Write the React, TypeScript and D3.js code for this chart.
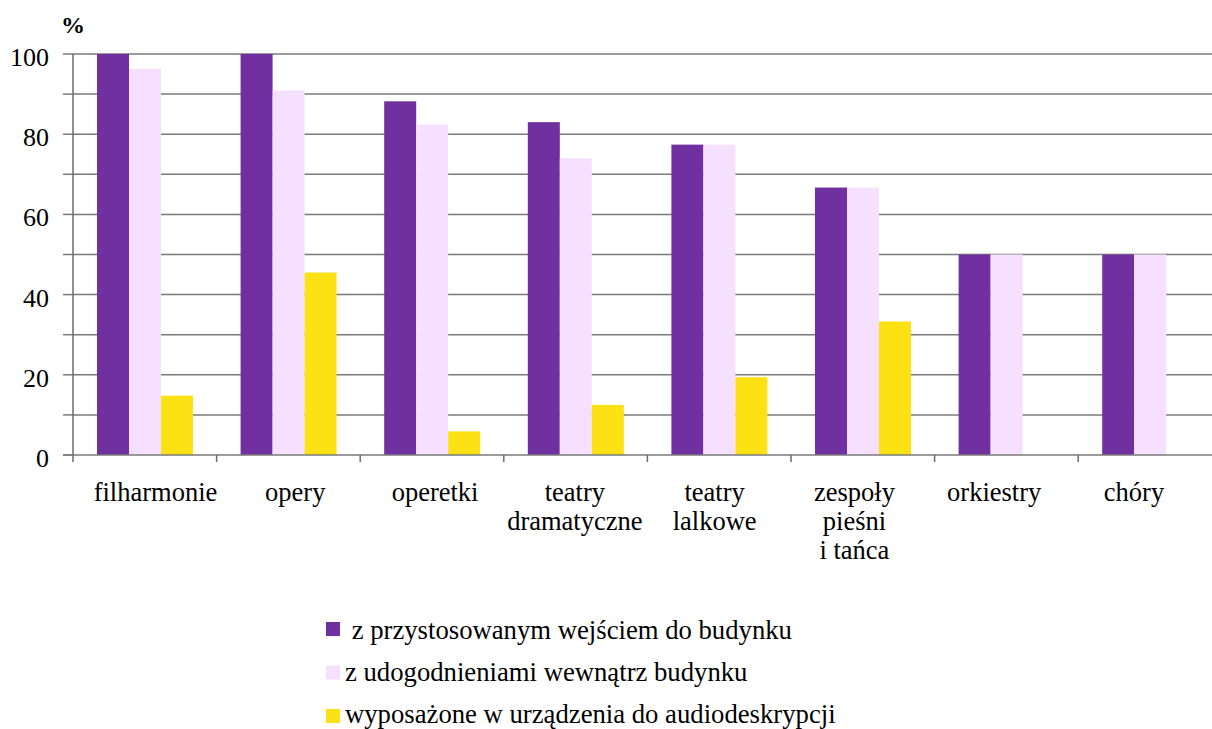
import React from "react";
import * as d3 from "d3";

const categories = [
  ["filharmonie"],
  ["opery"],
  ["operetki"],
  ["teatry", "dramatyczne"],
  ["teatry", "lalkowe"],
  ["zespoły", "pieśni", "i tańca"],
  ["orkiestry"],
  ["chóry"],
];
const seriesNames = [
  " z przystosowanym wejściem do budynku",
  "z udogodnieniami wewnątrz budynku",
  "wyposażone w urządzenia do audiodeskrypcji",
];
const entrance = [100, 100, 88.2, 83.0, 77.4, 66.7, 50, 50];
const inside = [96.3, 90.9, 82.4, 74.0, 77.4, 66.7, 50, 50];
const audio = [14.8, 45.5, 5.9, 12.5, 19.4, 33.3, 0, 0];
const yTicks = [0, 20, 40, 60, 80, 100];
const colors = ["#7030A0", "#F5E1FF", "#FCE114"];

const TF = { fontFamily: "Liberation Serif" };

export default function App() {
  const W = 1212, H = 729;
  const x0 = 73, band = 143.6;
  const x = d3.scaleBand<number>().domain(d3.range(8)).range([x0, x0 + band * 8]).paddingInner(0).paddingOuter(0);
  const labelX = d3.scalePoint<number>().domain(d3.range(8)).range([155.5, 1134]);
  const inner = d3.scaleBand<number>().domain([0, 1, 2]).range([24, 120]);
  const y = d3.scaleLinear().domain([0, 100]).range([455, 54]);
  const series = [entrance, inside, audio];
  const grid = d3.range(10, 101, 10);
  return (
    <svg width={W} height={H} style={{ position: "absolute", left: 0, top: 0, background: "#fff" }}>
      {grid.map((g) => (
        <line key={g} x1={x0} x2={W} y1={y(g)} y2={y(g)} stroke="#7a7a7a" strokeWidth={1.5} />
      ))}
      {d3.range(0, 101, 10).map((g) => (
        <line key={"t" + g} x1={x0 - 10} x2={x0} y1={y(g)} y2={y(g)} stroke="#7a7a7a" strokeWidth={1.5} />
      ))}
      {series.map((s, si) =>
        s.map((v, i) =>
          v > 0 ? (
            <rect key={si + "-" + i} x={(x(i) as number) + (inner(si) as number)} width={inner.bandwidth()} y={y(v)} height={y(0) - y(v)} fill={colors[si]} />
          ) : null
        )
      )}
      <line x1={x0} x2={x0} y1={y(100)} y2={y(0)} stroke="#6a6a6a" strokeWidth={1.5} />
      <line x1={x0 - 10} x2={W} y1={y(0)} y2={y(0)} stroke="#7a7a7a" strokeWidth={1.5} />
      {d3.range(0, 9).map((i) => (
        <line key={"b" + i} x1={x0 + i * band} x2={x0 + i * band} y1={y(0)} y2={y(0) + 7} stroke="#6a6a6a" strokeWidth={1.5} />
      ))}
      {yTicks.map((t) => (
        <text key={"yl" + t} x={49} y={y(t) + 12} textAnchor="end" fontSize={26} fill="#000" style={TF}>{t}</text>
      ))}
      <text x={61} y={33} fontSize={24} fontWeight="bold" fill="#000" style={TF}>%</text>
      {categories.map((lines, i) => (
        <text key={"c" + i} textAnchor="middle" fontSize={26.5} fill="#000" style={TF}>
          {lines.map((l, li) => (
            <tspan key={li} x={labelX(i) as number} y={501 + li * 29}>{l}</tspan>
          ))}
        </text>
      ))}
      {seriesNames.map((n, i) => (
        <g key={"lg" + i}>
          <rect x={326} y={622 + i * 43.5} width={14} height={14} fill={colors[i]} />
          <text x={345} y={639 + i * 42} fontSize={26.7} fill="#000" style={{ ...TF, whiteSpace: "pre" }}>{n}</text>
        </g>
      ))}
    </svg>
  );
}
